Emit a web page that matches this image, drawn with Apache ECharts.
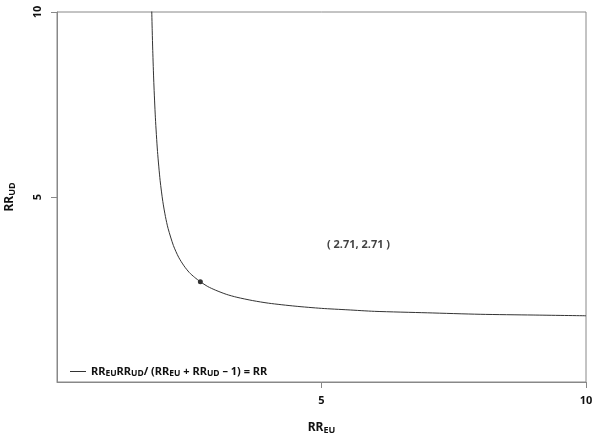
<!DOCTYPE html>
<html>
<head>
<meta charset="utf-8">
<script src="https://cdn.jsdelivr.net/npm/echarts@6/dist/echarts.min.js"></script>
<style>html,body{margin:0;padding:0;background:#fff}#c{width:597px;height:439px}</style>
</head>
<body>
<div id="c"></div>
<script>
// Curve: RR_EU (x) and RR_UD (y)
const curveX = [1.79, 1.80, 1.81, 1.83, 1.86, 1.9, 1.95, 2.0, 2.05, 2.1, 2.2, 2.3, 2.4, 2.5, 2.6, 2.71, 2.85, 3.0, 3.2, 3.4, 3.7, 4.0, 4.5, 5.0, 5.5, 6.0, 7.0, 8.0, 9.0, 10.0];
const curveY = [10.09, 9.49, 8.96, 8.10, 7.14, 6.23, 5.44, 4.88, 4.47, 4.15, 3.69, 3.37, 3.14, 2.96, 2.83, 2.71, 2.58, 2.48, 2.37, 2.29, 2.20, 2.13, 2.05, 1.99, 1.95, 1.91, 1.87, 1.83, 1.81, 1.79];
const pointXY = [2.71, 2.71];
const pointLabel = '( 2.71, 2.71 )';
const labelPos = [5.7, 3.7];
const xTicks = [5, 10];
const yTicks = [5, 10];

const FONT = 'Noto Sans';
const TXT = '#111';
const sub = {fontSize: 9, fontWeight: 'bold', fontFamily: FONT, color: TXT, padding: [6, 0, 0, 0]};
const main = {fontSize: 12, fontWeight: 'bold', fontFamily: FONT, color: TXT};

const chart = echarts.init(document.getElementById('c'), null, {renderer: 'canvas'});
chart.setOption({
  animation: false,
  backgroundColor: '#fff',
  grid: {left: 57, right: 11, top: 12, bottom: 57, show: true, borderColor: '#888', borderWidth: 1, outerBoundsMode: 'none', containLabel: false},
  xAxis: {
    type: 'value', min: 0, max: 10, interval: 5,
    splitLine: {show: false},
    axisLine: {lineStyle: {color: '#888', width: 1}},
    axisTick: {customValues: xTicks, length: 6, lineStyle: {color: '#888'}},
    axisLabel: {customValues: xTicks, margin: 13, fontSize: 11, fontWeight: 'bold', fontFamily: FONT, color: TXT},
    name: '{m|RR}{s|EU}', nameLocation: 'middle', nameGap: 38,
    nameTextStyle: {rich: {m: main, s: sub}}
  },
  yAxis: {
    type: 'value', min: 0, max: 10, interval: 5,
    splitLine: {show: false},
    axisLine: {lineStyle: {color: '#888', width: 1}},
    axisTick: {customValues: yTicks, length: 6, lineStyle: {color: '#888'}},
    axisLabel: {customValues: yTicks, rotate: 90, margin: 14, fontSize: 11, fontWeight: 'bold', fontFamily: FONT, color: TXT},
    name: '{m|RR}{s|UD}', nameLocation: 'middle', nameGap: 40,
    nameTextStyle: {rich: {m: main, s: sub}}
  },
  legend: {
    left: 65, top: 361, orient: 'horizontal',
    itemWidth: 16, itemHeight: 1, itemGap: 10,
    data: [{name: 'curve', icon: 'rect', itemStyle: {color: '#333'}}],
    formatter: () => '{m|RR}{s|EU}{m|RR}{s|UD}{m|/ (RR}{s|EU}{m| + RR}{s|UD}{m| – 1) = RR}',
    textStyle: {rich: {
      m: {fontSize: 11, fontWeight: 'bold', fontFamily: FONT, color: TXT},
      s: {fontSize: 8.5, fontWeight: 'bold', fontFamily: FONT, color: TXT, padding: [5, 0, 0, 0]}
    }}
  },
  series: [
    {
      name: 'curve', type: 'line',
      data: curveX.map((x, i) => [x, curveY[i]]),
      showSymbol: false, symbol: 'none',
      smooth: 0.25,
      lineStyle: {color: '#333', width: 1},
      clip: true
    },
    {
      name: 'point', type: 'scatter',
      data: [pointXY], symbolSize: 5,
      itemStyle: {color: '#000'}
    },
    {
      name: 'label', type: 'scatter',
      data: [labelPos], symbolSize: 1,
      itemStyle: {color: 'rgba(0,0,0,0)'},
      label: {show: true, position: 'inside', formatter: pointLabel, fontSize: 11, fontWeight: 'bold', fontFamily: FONT, color: TXT}
    }
  ]
});
</script>
</body>
</html>
